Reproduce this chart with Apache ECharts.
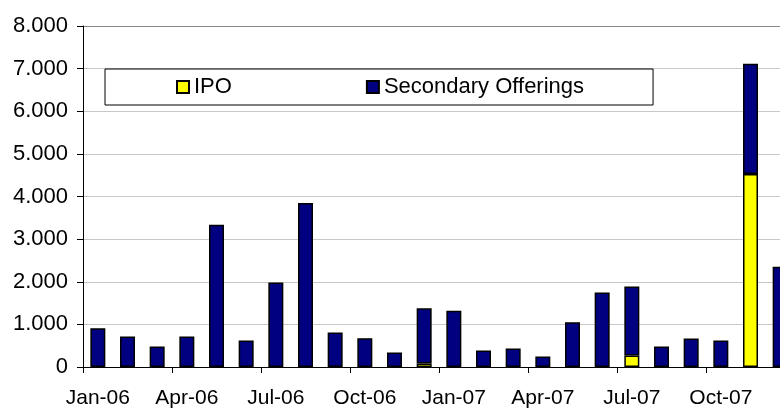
<!DOCTYPE html>
<html>
<head>
<meta charset="utf-8">
<script src="https://cdn.jsdelivr.net/npm/echarts@6/dist/echarts.min.js"></script>
<style>
  html, body { margin: 0; padding: 0; background: #fff; overflow: hidden; }
  /* the original picture is cut at the right edge, so the plot runs past 780px */
  #wrap { width: 780px; height: 409px; overflow: hidden; }
  #chart { width: 795px; height: 409px; }
</style>
</head>
<body>
<div id="wrap"><div id="chart"></div></div>
<script>
// months Jan-06 .. Dec-07
var months = ['Jan-06','Feb-06','Mar-06','Apr-06','May-06','Jun-06','Jul-06','Aug-06','Sep-06','Oct-06','Nov-06','Dec-06',
              'Jan-07','Feb-07','Mar-07','Apr-07','May-07','Jun-07','Jul-07','Aug-07','Sep-07','Oct-07','Nov-07','Dec-07'];
var ipo = [0, 0, 0, 0, 0, 0, 0, 0, 0, 0, 0, 80,
           0, 0, 0, 0, 0, 0, 272, 0, 0, 0, 4525, 0];
var secondary = [910, 716, 483, 716, 3335, 622, 1983, 3848, 809, 676, 342, 1296,
                 1322, 389, 435, 249, 1050, 1749, 1617, 483, 669, 622, 2589, 2350];

var chart = echarts.init(document.getElementById('chart'));
var fontFam = '"Liberation Sans", Arial, sans-serif';

chart.setOption({
  animation: false,
  textStyle: { fontFamily: fontFam },
  grid: { left: 83, top: 26, right: 0, height: 343 },
  legend: {
    data: ['IPO', 'Secondary Offerings'],
    left: 105,
    top: 69,
    icon: 'rect',
    backgroundColor: '#fff',
    borderColor: '#000',
    borderWidth: 1,
    padding: [7, 69, 7, 71],
    itemGap: 134,
    itemWidth: 12,
    itemHeight: 12,
    textStyle: { fontSize: 22, color: '#000', fontFamily: fontFam }
  },
  xAxis: {
    type: 'category',
    data: months,
    axisLine: { lineStyle: { color: '#000', width: 1 } },
    axisTick: { show: true, interval: 2, length: 6, lineStyle: { color: '#000' } },
    axisLabel: { interval: 2, fontSize: 21, color: '#000', margin: 21, fontFamily: fontFam }
  },
  yAxis: {
    type: 'value',
    min: 0,
    max: 8000,
    interval: 1000,
    axisLine: { show: true, lineStyle: { color: '#000', width: 1 } },
    axisTick: { show: true, length: 6, lineStyle: { color: '#000' } },
    axisLabel: {
      fontSize: 22, color: '#000', margin: 15, fontFamily: fontFam,
      formatter: function (v) { return String(v).replace(/\B(?=(\d{3})+(?!\d))/g, '.'); }
    },
    splitLine: {
      lineStyle: {
        color: ['#c8c8c8', '#c8c8c8', '#c8c8c8', '#c8c8c8', '#c8c8c8', '#c8c8c8', '#c8c8c8', '#c8c8c8', '#888'],
        width: 1
      }
    }
  },
  series: [
    {
      name: 'IPO',
      type: 'bar',
      stack: 'total',
      barWidth: 15,
      // empty months drawn as gaps so no outline shows at the base
      data: ipo.map(function (v) { return v === 0 ? '-' : v; }),
      itemStyle: { color: '#ffff00', borderColor: '#000', borderWidth: 1.5 }
    },
    {
      name: 'Secondary Offerings',
      type: 'bar',
      stack: 'total',
      barWidth: 15,
      data: secondary,
      itemStyle: { color: '#000080', borderColor: '#000', borderWidth: 1.5 }
    }
  ]
});
</script>
</body>
</html>
